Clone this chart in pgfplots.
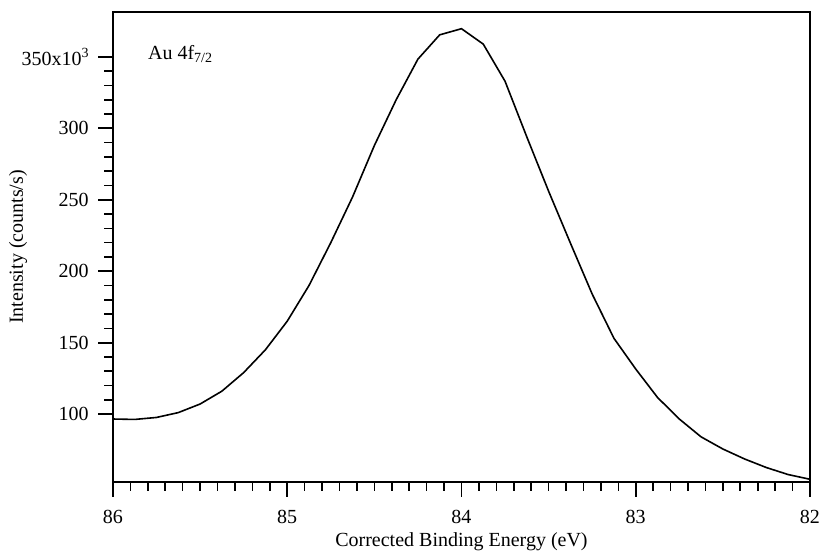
\documentclass[border=0pt]{standalone}
\usepackage{pgfplots}
\pgfplotsset{compat=1.18}
\usepackage{fontspec}
\setmainfont{Liberation Serif}
\begin{document}
\fontsize{15}{18}\selectfont
\begin{tikzpicture}
\useasboundingbox (-84.75pt,-52.5pt) rectangle (529.5pt,361.5pt);
\begin{axis}[
  scale only axis, width=522.75pt, height=352.5pt,
  x dir=reverse, xmin=82, xmax=86, ymin=52.4, ymax=381.5,
  xtick={82,83,84,85,86}, minor x tick num=9,
  ytick={100,150,200,250,300,350},
  yticklabels={100,150,200,250,300,{350x10\raisebox{0.95ex}{\fontsize{10.5}{12}\selectfont 3}}},
  minor y tick num=4,
  tick align=outside, tick pos=left,
  major tick length=11pt, minor tick length=6.5pt,
  every major tick/.append style={black, line width=1.4pt},
  every minor tick/.append style={black, line width=1.2pt},
  axis line style={line width=1.2pt},
  /pgf/number format/assume math mode=true,
  font=\fontsize{15}{18}\selectfont,
  xticklabel style={yshift=-5pt},
  yticklabel style={xshift=-2pt},
  xlabel={Corrected Binding Energy (eV)},
  ylabel={Intensity (counts/s)},
  xlabel style={at={(axis description cs:0.5,-0.127)}, anchor=center},
  ylabel style={at={(axis description cs:-0.136,0.5)}, anchor=center, rotate=0},
]
\addplot[black, line width=1.2pt, mark=none] coordinates {
(86,96.5)(85.875,96.2)(85.75,97.6)(85.625,101)(85.5,107)(85.375,116)(85.25,129)(85.125,145)(85,165)(84.875,190)(84.75,220)(84.625,252)(84.5,288)(84.375,320)(84.25,348.5)(84.125,365.5)(84,369.8)(83.875,359)(83.75,333)(83.625,294)(83.5,256)(83.375,219.7)(83.25,184)(83.125,153)(83,131.5)(82.875,111.6)(82.75,96.5)(82.625,84)(82.5,75.5)(82.375,68.5)(82.25,62.5)(82.125,57.6)(82,54.3)
};
\node[anchor=base west, inner sep=0pt] at (axis cs:85.8,348.4) {Au 4f\textsubscript{7/2}};
\end{axis}
\end{tikzpicture}
\end{document}
